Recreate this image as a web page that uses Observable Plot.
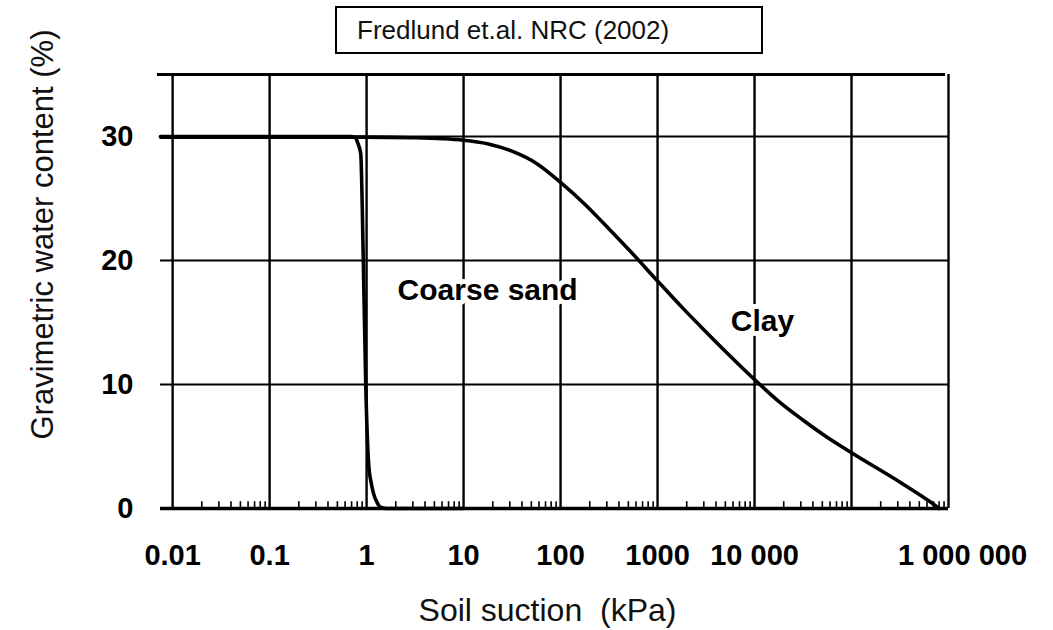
<!DOCTYPE html>
<html>
<head>
<meta charset="utf-8">
<script src="https://cdn.jsdelivr.net/npm/d3@7"></script>
<script src="https://cdn.jsdelivr.net/npm/@observablehq/plot@0.6"></script>
<style>
  html, body { margin: 0; padding: 0; background: #fff; }
  #head { position: relative; height: 60px; width: 1053px; z-index: 1; }
  #titlebox {
    position: absolute; left: 335px; top: 6px; width: 428px; height: 48px;
    box-sizing: border-box; border: 2px solid #000; background: #fff;
    font-family: "Liberation Sans", Arial, sans-serif; font-size: 26px;
    line-height: 44px; padding-left: 20px; color: #111; white-space: nowrap;
  }
  #chart svg { overflow: visible; }
</style>
</head>
<body>
<div id="head"><div id="titlebox">Fredlund et.al. NRC (2002)</div></div>
<div id="chart"></div>
<script>
// ---- data ----
const tickValues = [0.01, 0.1, 1, 10, 100, 1000, 10000];
const tickLabels = ["0.01", "0.1", "1", "10", "100", "1000", "10 000"];
const lastTickValue = [1e6];
const lastTickLabel = ["1 000 000"];
const gridDecades = [0.01, 0.1, 1, 10, 100, 1000, 10000, 100000, 1e6];
const yTicks = [0, 10, 20, 30];

const sandSuction = [0.0075, 0.7, 0.77, 0.8, 0.87, 0.925, 0.98, 1.05, 1.12, 1.18, 1.3, 1.39, 1.6, 10];
const sandWater   = [30, 30, 29.9, 29.6, 28.6, 20, 10, 3.6, 2.0, 1.2, 0.4, 0.1, 0, 0];

const claySuction = [0.0075, 1, 3, 10, 18, 32, 56, 100, 180, 320, 560, 1000, 1800, 3200, 5600, 10000, 18000, 32000, 56000, 100000, 320000, 630000, 800000];
const clayWater   = [29.95, 29.95, 29.9, 29.7, 29.4, 28.8, 27.85, 26.3, 24.5, 22.5, 20.5, 18.35, 16.2, 14.2, 12.3, 10.4, 8.6, 7.1, 5.75, 4.5, 2.1, 0.6, 0];

const labelNames = ["Coarse sand", "Clay"];
const labelSuction = [17.7, 12100];
const labelWater = [17.6, 15.1];

// ---- build tables ----
const sand = sandSuction.map((s, i) => ({s, w: sandWater[i]}));
const clay = claySuction.map((s, i) => ({s, w: clayWater[i]}));
const labels = labelNames.map((t, i) => ({t, s: labelSuction[i], w: labelWater[i]}));
const minor = [];
for (const d of [0.01, 0.1, 1, 10, 100, 1000, 10000, 100000]) {
  for (let k = 2; k <= 9; k++) minor.push(d * k);
}
const tickText = {fontSize: 29, fontWeight: "bold", tickSize: 0, tickPadding: 36, label: null};

const chart = Plot.plot({
  width: 1053,
  height: 570,
  marginLeft: 160,
  marginRight: 105,
  marginTop: 14,
  marginBottom: 122,
  style: { fontFamily: "'Liberation Sans', Arial, sans-serif", color: "#000", background: "#fff", overflow: "visible" },
  x: { type: "log", domain: [0.0075, 1e6] },
  y: { domain: [0, 35] },
  marks: [
    Plot.ruleY([10, 20, 30], { stroke: "#000", strokeWidth: 2 }),
    Plot.ruleX(gridDecades, { y1: 0, y2: 35, stroke: "#000", strokeWidth: 2.4 }),
    Plot.ruleX(minor, { y1: 0, y2: 0.55, stroke: "#000", strokeWidth: 1.6 }),
    Plot.ruleY([35], { stroke: "#000", strokeWidth: 3, dx: -3 }),
    Plot.ruleY([0], { stroke: "#000", strokeWidth: 3.5 }),
    Plot.line(clay, { x: "s", y: "w", stroke: "#000", strokeWidth: 3.6, curve: "monotone-x" }),
    Plot.line(sand, { x: "s", y: "w", stroke: "#000", strokeWidth: 3.6, curve: "monotone-x" }),
    Plot.text(labels, { x: "s", y: "w", text: "t", fontSize: 30, fontWeight: "bold", fill: "#000",
      stroke: "#fff", strokeWidth: 10, paintOrder: "stroke" }),
    Plot.axisX({ ...tickText, ticks: tickValues, tickFormat: d => tickLabels[tickValues.indexOf(d)] }),
    Plot.axisX({ ...tickText, ticks: lastTickValue, tickFormat: () => lastTickLabel[0], dx: 14 }),
    Plot.axisY({ ticks: yTicks, tickSize: 0, tickPadding: 27, fontSize: 29, fontWeight: "bold", label: null }),
    Plot.text(["Soil suction\u00a0\u00a0(kPa)"], { frameAnchor: "bottom", text: d => d, dx: -7, dy: 112,
      fontSize: 32, fill: "#111" }),
    Plot.text(["Gravimetric water content (%)"], { frameAnchor: "left", text: d => d, rotate: -90,
      textAnchor: "middle", dx: -117, dy: -57, fontSize: 31, fill: "#111" })
  ]
});
document.getElementById("chart").appendChild(chart);
</script>
</body>
</html>
